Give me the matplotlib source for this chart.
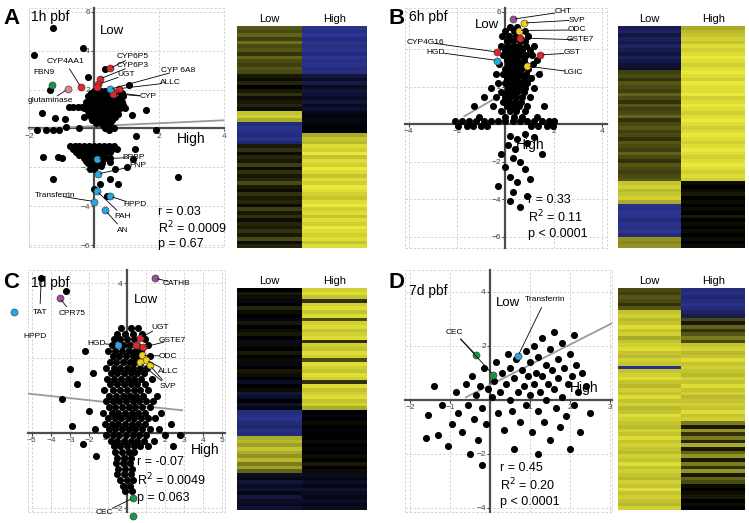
import numpy as np
import matplotlib
matplotlib.use("Agg")
import matplotlib.pyplot as plt
from matplotlib.colors import LinearSegmentedColormap
from matplotlib.patches import Rectangle

plt.rcParams['font.family'] = ['Liberation Sans', 'DejaVu Sans']

W, H = 749, 523

# ---------------- panel A (1h pbf) ----------------
# dense clouds typed as (y, [x values]) rows
a_rows = [(1.95, [0.0, 0.2, 0.35, 0.55]),
          (1.8, [-0.1, 0.05, 0.25, 0.4, 0.7, 0.85]),
          (1.65, [-0.2, -0.05, 0.1, 0.25, 0.4, 0.55, 0.75, 0.9]),
          (1.5, [-0.15, 0.0, 0.15, 0.3, 0.45, 0.6, 0.8]),
          (1.35, [-0.25, -0.1, 0.05, 0.2, 0.35, 0.5, 0.65, 0.85]),
          (1.2, [-0.2, -0.05, 0.1, 0.25, 0.4, 0.55, 0.7, 0.9]),
          (1.05, [-0.3, -0.15, 0.0, 0.15, 0.3, 0.45, 0.6, 0.8]),
          (0.9, [-0.2, -0.05, 0.1, 0.25, 0.4, 0.55, 0.7]),
          (0.75, [-0.15, 0.0, 0.15, 0.3, 0.45, 0.6, 0.75]),
          (0.6, [-0.3, -0.1, 0.05, 0.2, 0.35, 0.5, 0.65]),
          (0.45, [-0.05, 0.1, 0.25, 0.4, 0.55]),
          (0.3, [0.05, 0.2, 0.35, 0.5]),
          (0.15, [0.3, 0.45]),
          (-0.9, [-0.74, -0.6, -0.45, -0.3, -0.15, 0.0, 0.15, 0.3, 0.45, 0.6]),
          (-1.05, [-0.65, -0.5, -0.35, -0.2, -0.05, 0.1, 0.25, 0.4, 0.55, 0.7]),
          (-1.2, [-0.55, -0.4, -0.25, -0.1, 0.05, 0.2, 0.35, 0.5]),
          (-1.35, [-0.45, -0.3, -0.15, 0.0, 0.15, 0.3]),
          (-1.5, [-0.3, -0.15, 0.0, 0.2, 0.35, 0.5]),
          (-1.65, [-0.25, -0.1, 0.05, 0.2]),
          (-1.8, [-0.2, -0.05, 0.1, 0.25]),
          (-1.95, [-0.1, 0.05, 0.2]),
          (-2.1, [-0.12, 0.0])]
a_extra = [(-1.27, 5.18), (-0.35, 4.15), (-1.85, 3.78), (-0.17, 2.67), (-1.35, 1.98), (0.34, 3.08),
           (1.09, 2.26), (-0.48, 1.13), (-0.38, 1.11), (-0.64, 1.13), (-0.76, 1.09), (-1.61, 0.79),
           (-1.2, 0.56), (0.95, 1.03), (1.59, 0.94), (1.16, 0.70), (-0.9, 0.5), (0.35, 0.05),
           (0.45, -0.1), (-1.76, -0.07), (-1.48, -0.09), (-1.25, -0.1), (-1.08, -0.1), (-0.87, 0.1),
           (-0.45, 0.0), (0.6, 0.0), (1.29, -0.41), (1.9, -0.09),
           (-1.1, -1.49), (-1.0, -1.5), (-1.56, -1.49), (0.49, -1.75), (1.26, -1.06), (1.21, -1.57),
           (0.65, -2.09), (1.0, -2.0), (-1.25, -2.6), (0.49, -2.6), (0.75, -2.85), (0.18, -2.85),
           (0.0, -3.11), (0.39, -3.49), (2.57, -2.48)]
# highlighted genes: (x, y, colour key)
a_hi = [(0.49, 3.09, 'r'), (0.18, 2.55, 'r'), (0.13, 2.27, 'r'), (0.08, 2.15, 'r'), (0.78, 2.05, 'r'),
        (0.65, 1.85, 'r'), (0.59, 1.79, 'r'), (-0.4, 2.12, 'r'), (0.49, 2.02, 'b'), (0.08, -1.57, 'b'),
        (0.11, -2.34, 'b'), (0.01, -3.76, 'b'), (0.08, -3.21, 'b'), (0.49, -3.49, 'b'), (0.35, -4.22, 'b'),
        (-1.3, 2.22, 'g'), (-0.81, 2.02, 'p')]
# label, text position, point(s) it refers to
a_labels = [("CYP4AA1", (-0.89, 3.44), [(-0.4, 2.12)]), ("FBN9", (-1.54, 2.87), []),
            ("glutaminase", (-1.35, 1.44), [(-0.81, 2.02)]), ("CYP6P5", (1.2, 3.69), [(0.49, 3.09)]),
            ("CYP6P3", (1.2, 3.23), [(0.18, 2.55)]), ("UGT", (0.98, 2.77), [(0.13, 2.27)]),
            ("CYP 6A8", (2.58, 2.97), [(0.49, 2.02)]), ("ALLC", (2.34, 2.36), [(0.78, 2.05)]),
            ("CYP", (1.66, 1.64), [(0.65, 1.85), (0.59, 1.79)]), ("BPBP", (1.22, -1.49), [(0.08, -1.57)]),
            ("PNP", (1.35, -1.9), [(0.11, -2.34)]), ("Transferrin", (-1.2, -3.44), [(0.01, -3.76)]),
            ("HPPD", (1.26, -3.9), [(0.49, -3.49)]), ("PAH", (0.89, -4.51), [(0.08, -3.21)]),
            ("AN", (0.89, -5.23), [(0.35, -4.22)])]
a_fit = (0.12, 0.075)  # intercept, slope
a_stats = ["r = 0.03", "R$^2$ = 0.0009", "p = 0.67"]
a_heat_low = [0.35, 0.3, 0.4, 0.25, 0.45, 0.3, 0.35, 0.2, 0.4, 0.3, 0.25, 0.35, 0.3,
              0.1, 0.05, 0.15, 0.0, 0.1, 0.2, 0.05, 0.1, 0.15, 0.05,
              0.8, 0.85, 0.7,
              -0.6, -0.7, -0.65, -0.6, -0.7, -0.55,
              0.1, 0.2, 0.05, 0.15, 0.1, 0.25, 0.05, 0.2, 0.1, 0.15, 0.3, 0.1, 0.05, 0.2,
              0.1, 0.15, 0.05, 0.25, 0.1, 0.2, 0.05, 0.15, 0.1, 0.2, 0.1, 0.3, 0.05, 0.15]
a_heat_high = [-0.7, -0.65, -0.75, -0.6, -0.7, -0.65, -0.7, -0.6, -0.75, -0.65, -0.7, -0.6, -0.65,
               -0.3, -0.2, -0.35, -0.15, -0.3, -0.25, -0.2, -0.3, -0.15, -0.25,
               -0.1, -0.05, -0.1,
               -0.05, 0.0, -0.05, 0.7, 0.8, 0.75,
               0.9, 0.85, 0.95, 0.8, 0.9, 0.85, 0.95, 0.9, 0.8, 0.9, 0.85, 0.95, 0.9, 0.85,
               0.8, 0.9, 0.95, 0.85, 0.9, 0.8, 0.9, 0.85, 0.95, 0.9, 0.85, 0.9, 0.8, 0.9]

# ---------------- panel B (6h pbf) ----------------
b_rows = [(5.2, [0.2, 0.5]), (4.95, [0.0, 0.35, 0.8]), (4.7, [-0.15, 0.15, 0.45, 0.95]),
          (4.45, [0.05, 0.3, 0.6, 0.8]), (4.2, [-0.2, 0.1, 0.35, 0.55, 0.85, 1.2]),
          (3.95, [0.0, 0.25, 0.45, 0.7, 1.0]), (3.7, [-0.1, 0.15, 0.35, 0.6, 0.85, 1.1]),
          (3.45, [0.05, 0.3, 0.5, 0.75, 1.3]), (3.2, [-0.25, 0.1, 0.3, 0.55, 0.8, 1.15]),
          (2.95, [0.0, 0.2, 0.45, 0.65, 0.95]), (2.7, [-0.4, -0.1, 0.15, 0.35, 0.6, 0.85, 1.4]),
          (2.45, [0.05, 0.3, 0.5, 0.75, 1.05]), (2.2, [-0.3, 0.0, 0.2, 0.45, 0.65, 0.9]),
          (1.95, [-0.6, 0.1, 0.35, 0.55, 0.8, 1.2]), (1.7, [-0.2, 0.05, 0.3, 0.5, 0.75]),
          (1.45, [-0.9, -0.4, 0.0, 0.2, 0.45, 0.7, 1.0]), (1.2, [-0.1, 0.15, 0.4, 0.65]),
          (0.95, [-1.3, -0.5, 0.05, 0.3, 0.55, 0.9, 1.6]), (0.7, [-0.2, 0.2, 0.45, 0.8]),
          (0.4, [-1.1, 0.0, 0.35, 0.7, 1.3]),
          (0.15, [-2.1, -1.8, -1.5, -1.2, -0.9, -0.6, -0.3, 0.0, 0.3, 0.6, 0.9, 1.2, 1.5, 1.8, 2.0]),
          (-0.1, [-1.95, -1.6, -1.35, -1.0, -0.75, 1.05, 1.35, 1.7, 1.95])]
b_extra = [(0.2, -0.6), (0.5, -0.8), (0.8, -0.5), (0.1, -1.1), (0.4, -1.3), (0.9, -1.0), (1.2, -0.7),
           (-0.2, -1.6), (0.3, -1.8), (0.6, -2.0), (0.0, -2.3), (0.8, -2.4), (1.5, -1.6), (0.2, -2.8),
           (0.5, -3.1), (1.0, -2.9), (-0.3, -3.3), (0.3, -3.6), (0.2, -4.1), (0.6, -4.4), (0.9, -3.8)]
b_hi = [(0.3, 5.6, 'm'), (0.75, 5.4, 'y'), (0.55, 5.0, 'y'), (0.6, 4.6, 'r'), (1.45, 3.7, 'r'),
        (0.9, 3.1, 'y'), (-0.33, 3.85, 'r'), (-0.33, 3.4, 'b')]
b_labels = [("CHT", (2.4, 6.0), [(0.3, 5.6)]), ("SVP", (2.97, 5.56), [(0.75, 5.4)]),
            ("ODC", (2.97, 5.03), [(0.55, 5.0)]), ("GSTE7", (3.1, 4.5), [(0.6, 4.6)]),
            ("GST", (2.76, 3.8), [(1.45, 3.7)]), ("LGIC", (2.8, 2.78), [(0.9, 3.1)]),
            ("CYP4G16", (-3.3, 4.38), [(-0.33, 3.85)]), ("HGD", (-2.89, 3.85), [(-0.33, 3.4)])]
b_fit = (1.7, 0.75)
b_stats = ["r = 0.33", "R$^2$ = 0.11", "p < 0.0001"]
b_heat_low = [-0.4, -0.5, -0.3, -0.45, -0.35, -0.5, -0.4, -0.3, -0.45, -0.35, -0.25, -0.2,
              0.25, 0.3, 0.2, 0.35, 0.3, 0.25, 0.4, 0.3, 0.2, 0.35, 0.25, 0.3, 0.4, 0.2, 0.3, 0.35,
              0.25, 0.3, 0.2, 0.35, 0.3, 0.25, 0.4, 0.3, 0.2, 0.35, 0.3, 0.25, 0.3, 0.35,
              0.8, 0.85, 0.75, 0.8, 0.85, 0.7,
              -0.7, -0.65, -0.75, -0.7, -0.6, -0.7, -0.65, -0.75, -0.6,
              0.6, 0.55, 0.6]
b_heat_high = [0.7, 0.75, 0.8, 0.85, 0.8, 0.9, 0.85, 0.9, 0.95, 0.9, 0.85, 0.9,
               0.95, 0.9, 0.85, 0.95, 0.9, 0.9, 0.95, 0.85, 0.9, 0.95, 0.9, 0.85, 0.9, 0.95, 0.9, 0.85,
               0.9, 0.95, 0.9, 0.85, 0.9, 0.95, 0.9, 0.85, 0.9, 0.95, 0.9, 0.85, 0.9, 0.85,
               0.05, 0.0, 0.05, 0.1, 0.0, 0.05,
               0.0, 0.05, 0.0, 0.1, 0.0, 0.05, 0.0, 0.05, 0.0,
               0.05, 0.0, 0.05]

# ---------------- panel C (1d pbf) ----------------
c_rows = [(2.8, [-0.3, 0.2, 0.6]), (2.65, [-0.5, -0.1, 0.3, 0.8]), (2.5, [-0.7, -0.35, 0.0, 0.35, 0.95]),
          (2.35, [-0.8, -0.2, 0.15, 0.55, 1.1]), (2.2, [-1.0, -0.6, -0.25, 0.1, 0.45, 0.75]),
          (2.05, [-0.75, -0.4, -0.05, 0.3, 0.6, 1.2]), (1.9, [-0.9, -0.55, -0.2, 0.15, 0.45]),
          (1.75, [-1.1, -0.7, -0.35, 0.0, 0.3, 0.7, 1.05]), (1.6, [-0.85, -0.5, -0.15, 0.2, 0.55, 0.9]),
          (1.45, [-1.05, -0.7, -0.3, 0.05, 0.4, 0.75, 1.3]), (1.3, [-0.9, -0.5, -0.15, 0.2, 0.55, 0.95]),
          (1.15, [-1.2, -0.75, -0.35, 0.0, 0.35, 0.7, 1.1]),
          (1.0, [-0.95, -0.55, -0.2, 0.15, 0.5, 0.85, 1.6]),
          (0.85, [-1.1, -0.75, -0.4, -0.05, 0.3, 0.65, 1.0, 1.35]),
          (0.7, [-0.95, -0.6, -0.25, 0.1, 0.45, 0.8, 1.2]),
          (0.55, [-1.25, -0.8, -0.45, -0.1, 0.25, 0.6, 0.95, 1.8]),
          (0.4, [-1.0, -0.65, -0.3, 0.05, 0.4, 0.75, 1.1, 1.5]),
          (0.25, [-1.15, -0.8, -0.45, -0.1, 0.25, 0.6, 0.95, 2.3]),
          (0.1, [-0.95, -0.6, -0.25, 0.1, 0.45, 0.8, 1.2, 1.7]),
          (-0.05, [-1.1, -0.75, -0.4, -0.05, 0.3, 0.65, 1.0, 2.0, 2.8]),
          (-0.2, [-0.85, -0.5, -0.15, 0.2, 0.55, 0.9, 1.4]), (-0.35, [-0.7, -0.35, 0.0, 0.35, 0.7, 1.1, 2.4]),
          (-0.5, [-0.6, -0.25, 0.1, 0.4]), (-0.65, [-0.5, -0.15, 0.2]), (-0.8, [-0.55, -0.2, 0.15]),
          (-0.95, [-0.45, -0.1, 0.25]), (-1.1, [-0.5, -0.15, 0.2]), (-1.25, [-0.35, 0.0, 0.3]),
          (-1.4, [-0.2, 0.15]), (-1.55, [-0.1, 0.25])]
c_extra = [(-3.4, 0.9), (-2.9, 0.2), (-2.6, 1.3), (-2.3, -0.3), (-2.0, 0.6), (-1.8, 1.6), (-1.6, -0.6),
           (-3.0, 1.7), (-2.2, 2.2), (-1.7, 0.1), (-4.5, 4.15), (-3.2, 3.8)]
c_hi = [(1.47, 4.13, 'm'), (-3.53, 3.6, 'm'), (-5.95, 3.23, 'b'), (0.68, 2.53, 'r'), (0.47, 2.35, 'r'),
        (0.84, 2.29, 'r'), (0.79, 2.08, 'y'), (1.0, 1.95, 'y'), (1.21, 1.81, 'y'), (0.68, 1.89, 'y'),
        (-0.47, 2.35, 'b'), (0.32, -1.73, 'g'), (0.32, -2.2, 'g')]
c_labels = [("CATHB", (2.6, 4.0), [(1.47, 4.13)]), ("UGT", (1.74, 2.83), [(0.68, 2.53)]),
            ("GSTE7", (2.37, 2.48), [(0.84, 2.29)]), ("ODC", (2.16, 2.05), [(0.79, 2.08)]),
            ("ALLC", (2.16, 1.65), [(1.0, 1.95)]), ("SVP", (2.16, 1.25), [(1.21, 1.81), (0.68, 1.89)]),
            ("HGD", (-1.58, 2.4), [(-0.47, 2.35)]), ("TAT", (-4.58, 3.23), [(-4.5, 4.15)]),
            ("CPR75", (-2.9, 3.2), [(-3.53, 3.6)]), ("HPPD", (-4.84, 2.59), [(-5.95, 3.23)]),
            ("CEC", (-1.16, -2.1), [(0.32, -1.73), (0.32, -2.2)])]
c_fit = (0.77, -0.055)
c_stats = ["r = -0.07", "R$^2$ = 0.0049", "p = 0.063"]
c_heat_low = [0.0, 0.1, 0.05, -0.1, 0.0, 0.15, 0.05, 0.0, -0.1, 0.1, 0.0, 0.05, 0.1, 0.0, -0.15,
              0.05, 0.0, 0.1, 0.0, 0.05, -0.1, 0.0, 0.1, 0.05, 0.0, -0.2, 0.0, 0.05, -0.3, -0.2, 0.0,
              -0.25, -0.1,
              -0.6, -0.65, -0.7, -0.6, -0.55, -0.65, -0.6,
              0.7, 0.75, 0.65, 0.8, 0.7, 0.6, 0.75, 0.5, 0.65, 0.4,
              -0.2, -0.1, -0.3, -0.15, -0.25, -0.1, -0.3, -0.2, -0.15, -0.25]
c_heat_high = [0.85, 0.9, 0.8, 0.2, 0.85, 0.9, 0.8, 0.9, 0.3, 0.85, 0.9, 0.8, 0.85, 0.9, 0.2,
               0.85, 0.8, 0.9, 0.85, 0.3, 0.9, 0.85, 0.8, 0.9, 0.85, 0.2, 0.9, 0.8, 0.85, 0.9, 0.8,
               0.85, 0.7,
               0.0, -0.05, 0.0, 0.05, 0.0, -0.05, 0.0,
               0.0, 0.05, 0.0, -0.05, 0.0, 0.05, 0.0, 0.1, 0.0, 0.05,
               -0.15, -0.1, -0.2, -0.1, -0.25, -0.15, -0.1, -0.2, -0.1, -0.15]

# ---------------- panel D (7d pbf) ----------------
d_pts = [(-1.55, -0.55), (-1.3, -1.3), (-1.2, -0.2), (-1.05, -1.7), (-0.95, -0.9), (-0.85, 0.3),
         (-0.8, -0.5), (-0.7, -1.2), (-0.6, 0.6), (-0.55, -0.2), (-0.5, -2.0), (-0.45, 0.9),
         (-0.4, -0.7), (-0.35, 0.2), (-0.3, -1.5), (-0.25, 0.5), (-0.2, -0.3), (-0.15, 1.2),
         (-0.1, -0.9), (-0.05, 0.4), (0.05, 0.1), (0.1, 0.7), (0.15, 1.4), (0.2, -0.5), (0.25, 0.3),
         (0.3, 1.0), (0.35, -1.1), (0.4, 0.6), (0.45, 1.7), (0.5, 0.0), (0.5, 1.2), (0.55, -0.4),
         (0.6, 0.8), (0.65, 1.5), (0.7, 0.3), (0.75, -0.8), (0.8, 1.1), (0.85, 0.5), (0.9, 1.8),
         (0.9, -0.2), (0.95, 0.9), (1.0, 0.2), (1.0, 1.4), (1.05, -1.2), (1.1, 0.6), (1.1, 2.0),
         (1.15, 1.0), (1.2, -0.4), (1.2, 1.6), (1.25, 0.3), (1.3, 0.9), (1.3, 2.3), (1.35, -0.8),
         (1.4, 1.3), (1.4, 0.0), (1.45, 0.6), (1.5, 1.9), (1.5, -1.5), (1.55, 1.1), (1.6, 0.4),
         (1.6, 2.5), (1.65, -0.3), (1.7, 1.5), (1.7, 0.8), (1.75, -1.0), (1.8, 2.1), (1.8, 0.1),
         (1.85, 1.2), (1.9, -0.6), (1.95, 0.6), (2.0, 1.7), (2.0, -1.8), (2.05, 0.9), (2.1, 2.4),
         (2.1, -0.2), (2.15, 1.3), (2.2, 0.3), (2.25, -1.2), (2.3, 1.0), (2.4, 0.5), (2.5, -0.5),
         (1.2, -2.0), (0.6, -1.8), (-0.2, -2.4), (-1.4, 0.5), (-1.6, -1.4)]
d_hi = [(0.7, 1.63, 'b'), (-0.35, 1.67, 'g'), (0.08, 0.93, 'g')]
d_labels = [("Transferrin", (1.38, 3.7), [(0.7, 1.63)]),
            ("CEC", (-0.88, 2.48), [(-0.35, 1.67), (0.08, 0.93)])]
d_fit = (0.55, 0.75)
d_stats = ["r = 0.45", "R$^2$ = 0.20", "p < 0.0001"]
d_heat_low = [0.3, 0.25, 0.35, 0.3, 0.2, 0.35,
              0.8, 0.85, 0.75, 0.8, 0.9, 0.8, 0.85, 0.7, 0.8, 0.85, 0.9, 0.8, 0.75, 0.85, 0.8,
              -0.7, 0.8, 0.85, 0.9, 0.8, 0.75, 0.85, 0.8, 0.9, 0.8, 0.85, 0.75, 0.8, 0.9, 0.85,
              0.8, 0.75, 0.85, 0.8, 0.9, 0.8, 0.85, 0.8, 0.75, 0.85, 0.8, 0.9, 0.8, 0.85, 0.8,
              0.75, 0.85, 0.8, 0.9, 0.8, 0.85, 0.8, 0.75, 0.85]
d_heat_high = [-0.6, -0.65, -0.55, -0.6, -0.7, -0.6, -0.5, -0.4,
               0.3, 0.1, 0.4, 0.2, 0.35, 0.5, 0.3,
               0.8, 0.85, 0.75, 0.8, 0.9, 0.8, 0.85, 0.8, 0.75, 0.85, 0.8, 0.9, 0.8, 0.85, 0.75,
               0.8, 0.85, 0.8, 0.9, 0.8, 0.85,
               0.5, 0.1, 0.6, 0.2, 0.5, 0.15, 0.7, 0.1, 0.4, 0.6, 0.1, 0.5, 0.2, 0.6, 0.1, 0.4, 0.3,
               0.05, 0.0, 0.05, 0.1, 0.0, 0.05, 0.0]

colors = {'r': '#e3262d', 'b': '#2aa7e0', 'g': '#17994a', 'p': '#d98585', 'm': '#9c4f9f', 'y': '#f0d21c'}
heat_cmap = LinearSegmentedColormap.from_list('by', ['#3c48c8', '#000000', '#f5f53c'])


def rows_to_pts(rows):
    return [(x, y) for y, xs in rows for x in xs]


def px_axes(fig, x0, y0, x1, y1):
    return fig.add_axes([x0 / W, 1 - y1 / H, (x1 - x0) / W, (y1 - y0) / H])


def ftext(fig, x, y, s, **kw):
    fig.text(x / W, 1 - y / H, s, **kw)


def scatter_panel(fig, box, xlim, ylim, xticks, yticks, pts, hi, labels, fit, fit_x,
                  low_xy, high_xy):
    ax = px_axes(fig, *box)
    ax.set_xlim(*xlim)
    ax.set_ylim(*ylim)
    for side in ['top', 'right']:
        ax.spines[side].set_visible(False)
    for side in ['left', 'bottom']:
        ax.spines[side].set_position(('data', 0))
        ax.spines[side].set_color('#4d4d4d')
        ax.spines[side].set_linewidth(1.6)
        ax.spines[side].set_zorder(2)
    ax.set_xticks(xticks)
    ax.set_yticks(yticks)
    ax.tick_params(length=2, width=0.8, labelsize=6, pad=1, colors='#444444')
    ax.grid(True, ls=(0, (3, 2)), color='#cfcfcf', lw=0.6)
    ax.set_axisbelow(True)
    ax.add_patch(Rectangle((0, 0), 1, 1, transform=ax.transAxes, fill=False,
                           ls=(0, (3, 2)), ec='#cfcfcf', lw=0.6, clip_on=False))
    ax.patch.set_alpha(0)
    xs = np.array(fit_x)
    ax.plot(xs, fit[0] + fit[1] * xs, color='#9a9a9a', lw=1.3, zorder=3)
    px = [p[0] for p in pts]
    py = [p[1] for p in pts]
    ax.scatter(px, py, s=26, c='black', lw=0, zorder=4, clip_on=False)
    for x, y, k in hi:
        ax.scatter([x], [y], s=26, c=colors[k], edgecolors='#333333', lw=0.4, zorder=5, clip_on=False)
    for name, txy, targets in labels:
        ax.text(txy[0], txy[1], name, fontsize=6, ha='center', va='center', zorder=6)
        for t in targets:
            ax.annotate('', xy=t, xytext=txy,
                        arrowprops=dict(arrowstyle='-', lw=0.6, color='black',
                                        shrinkA=6, shrinkB=2), zorder=5)
    ax.text(low_xy[0], low_xy[1], "Low", fontsize=9.5, ha='center', va='center')
    ax.text(high_xy[0], high_xy[1], "High", fontsize=10, ha='center', va='center')
    return ax


def heat_panel(fig, box, low, high):
    ax = px_axes(fig, *box)
    ax.imshow(np.column_stack([low, high]), aspect='auto', cmap=heat_cmap, vmin=-1, vmax=1,
              interpolation='nearest')
    ax.set_xticks([])
    ax.set_yticks([])
    for s in ax.spines.values():
        s.set_visible(False)
    ax.text(0.25, 1.01, "Low", transform=ax.transAxes, ha='center', va='bottom', fontsize=8)
    ax.text(0.75, 1.01, "High", transform=ax.transAxes, ha='center', va='bottom', fontsize=8)
    return ax


fig = plt.figure(figsize=(W / 100, H / 100), dpi=100)

# A
scatter_panel(fig, (29, 8, 224, 247), (-2.0, 4.0), (-6.1, 6.2), [-2, 2, 4], [-6, -4, -2, 2, 4, 6],
              rows_to_pts(a_rows) + a_extra, a_hi, a_labels, a_fit, [-2.0, 4.0], (0.55, 5.0), (3.0, -0.55))
heat_panel(fig, (237, 26, 367, 248), a_heat_low, a_heat_high)
ftext(fig, 3, 18, "A", fontsize=16, fontweight='bold', va='center')
ftext(fig, 31, 17, "1h pbf", fontsize=10, va='center')
for i, s in enumerate(a_stats):
    ftext(fig, 158, 212 + 16 * i, s, fontsize=9, va='center')

# B
scatter_panel(fig, (405, 8, 607, 248), (-4.15, 4.2), (-6.6, 6.2), [-4, -2, 2, 4], [-6, -4, -2, 2, 4, 6],
              rows_to_pts(b_rows) + b_extra, b_hi, b_labels, b_fit, [-1.7, 1.5], (-0.74, 5.3), (1.03, -1.12))
heat_panel(fig, (618, 26, 745, 248), b_heat_low, b_heat_high)
ftext(fig, 388, 18, "B", fontsize=16, fontweight='bold', va='center')
ftext(fig, 409, 17, "6h pbf", fontsize=10, va='center')
for i, s in enumerate(b_stats):
    ftext(fig, 528, 200 + 17 * i, s, fontsize=9, va='center')

# C
scatter_panel(fig, (28, 270, 225, 512), (-5.2, 5.16), (-2.1, 4.35), [-5, -4, -3, -2, -1, 1, 2, 3, 4, 5],
              [-2, 2, 4], rows_to_pts(c_rows) + c_extra, c_hi, c_labels, c_fit, [-5.2, 2.9],
              (1.0, 3.55), (4.1, -0.45))
heat_panel(fig, (237, 288, 367, 510), c_heat_low, c_heat_high)
ftext(fig, 3, 283, "C", fontsize=16, fontweight='bold', va='center')
ftext(fig, 31, 283, "1d pbf", fontsize=10, va='center')
for i, s in enumerate(c_stats):
    ftext(fig, 137, 462 + 18 * i, s, fontsize=9, va='center')

# D
scatter_panel(fig, (405, 270, 612, 512), (-2.125, 3.05), (-4.15, 4.81), [-2, -1, 1, 2, 3], [-4, -2, 2, 4],
              d_pts, d_hi, d_labels, d_fit, [-0.6, 3.05], (0.45, 3.6), (2.35, 0.44))
heat_panel(fig, (618, 288, 745, 510), d_heat_low, d_heat_high)
ftext(fig, 388, 283, "D", fontsize=16, fontweight='bold', va='center')
ftext(fig, 409, 291, "7d pbf", fontsize=10, va='center')
for i, s in enumerate(d_stats):
    ftext(fig, 500, 468 + 17 * i, s, fontsize=9, va='center')

fig.savefig("out.png", dpi=100)
